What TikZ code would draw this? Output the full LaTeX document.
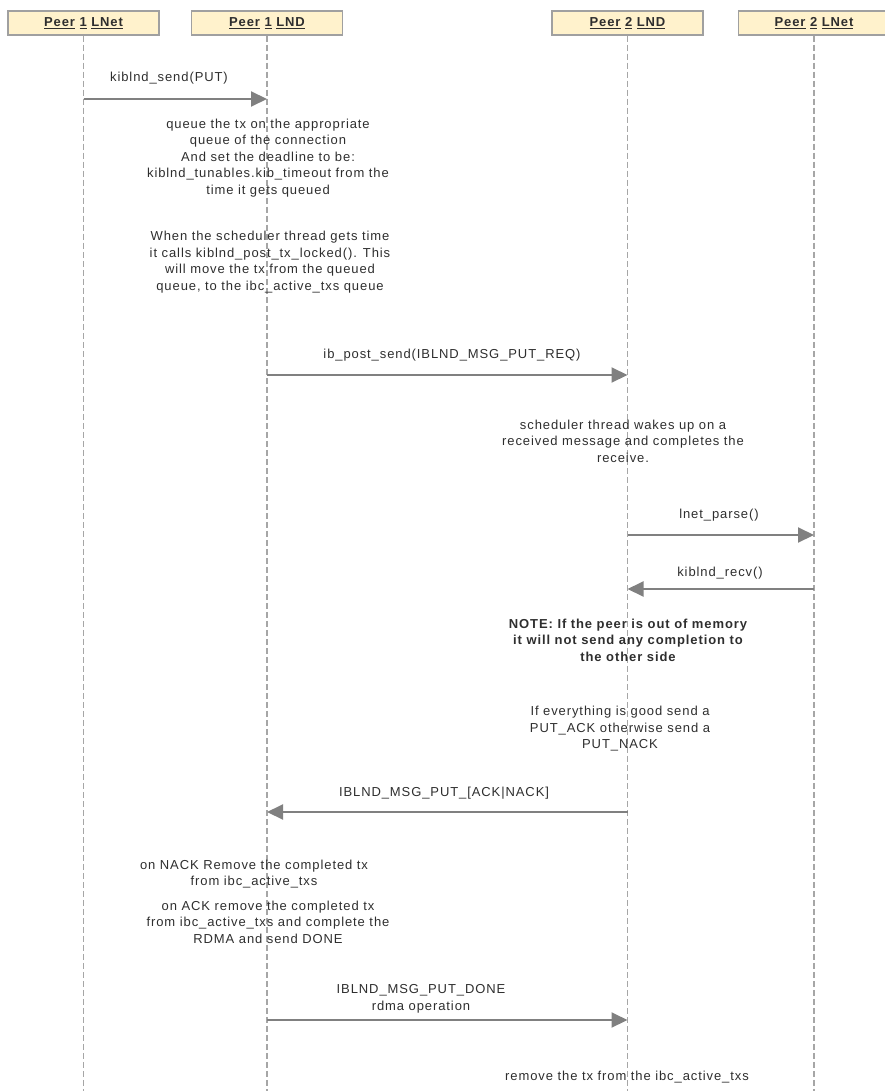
\documentclass[tikz,border=0pt]{standalone}
\usepackage{fontspec}
\setmainfont{Liberation Sans}[LetterSpace=7]
\usetikzlibrary{arrows.meta}

\definecolor{headfill}{HTML}{FFF2CC}
\definecolor{headdraw}{HTML}{A0A0A0}
\definecolor{msgdraw}{HTML}{808080}
\definecolor{lifedraw}{HTML}{A6A6A6}
\definecolor{txt}{HTML}{2E2E2E}

\newcommand{\uword}[1]{\underline{#1}}

\tikzset{
  head/.style={draw=headdraw,line width=1.5pt,fill=headfill,minimum width=151pt,minimum height=24pt,inner sep=0pt,font=\fontsize{13}{16.5}\selectfont\bfseries,text=txt},
  life/.style={draw=lifedraw,line width=1.2pt,dash pattern=on 6pt off 3pt},
  msg/.style={draw=msgdraw,line width=2pt,-{Triangle[length=16pt,width=15pt]}},
  lbl/.style={text=txt,align=center,inner sep=0pt}
}

\begin{document}
\begin{tikzpicture}[x=1pt,y=-1pt,font=\fontsize{13}{16.5}\selectfont]
\useasboundingbox (0,0) rectangle (884,1091);

% participants
\node[head] (lnet1) at (83.5,23) {\uword{Peer} \uword{1} \uword{LNet}};
\node[head] (lnd1) at (267,23) {\uword{Peer} \uword{1} \uword{LND}};
\node[head] (lnd2) at (627.5,23) {\uword{Peer} \uword{2} \uword{LND}};
\node[head] (lnet2) at (814,23) {\uword{Peer} \uword{2} \uword{LNet}};

% lifelines
\foreach \p in {lnet1,lnd1,lnd2,lnet2}{
  \coordinate (\p-end) at (\p |- 0,1091);
  \draw[life] (\p.south) -- (\p-end);
}

% message end points
\coordinate (send-a) at (lnet1 |- 0,99);
\coordinate (send-b) at (lnd1 |- 0,99);
\coordinate (req-a) at (lnd1 |- 0,375);
\coordinate (req-b) at (lnd2 |- 0,375);
\coordinate (parse-a) at (lnd2 |- 0,535);
\coordinate (parse-b) at (lnet2 |- 0,535);
\coordinate (recv-a) at (lnet2 |- 0,589);
\coordinate (recv-b) at (lnd2 |- 0,589);
\coordinate (ack-a) at (lnd2 |- 0,812);
\coordinate (ack-b) at (lnd1 |- 0,812);
\coordinate (done-a) at (lnd1 |- 0,1020);
\coordinate (done-b) at (lnd2 |- 0,1020);

% messages
\draw[msg] (send-a) -- (send-b);
\draw[msg] (req-a) -- (req-b);
\draw[msg] (parse-a) -- (parse-b);
\draw[msg] (recv-a) -- (recv-b);
\draw[msg] (ack-a) -- (ack-b);
\draw[msg] (done-a) -- (done-b);

% message labels
\node[lbl] (sendlbl) at (169,78) {kiblnd\_send(PUT)};
\node[lbl] (reqlbl) at (452,355) {ib\_post\_send(IBLND\_MSG\_PUT\_REQ)};
\node[lbl] (parselbl) at (719,515) {lnet\_parse()};
\node[lbl] (recvlbl) at (720,573) {kiblnd\_recv()};
\node[lbl] (acklbl) at (444,793) {IBLND\_MSG\_PUT\_[ACK|NACK]};
\node[lbl] (donelbl) at (421,999) {IBLND\_MSG\_PUT\_DONE\\rdma operation};

% notes
\node[lbl] (queuenote) at (268,158) {queue the tx on the appropriate\\queue of the connection\\And set the deadline to be:\\kiblnd\_tunables.kib\_timeout from the\\time it gets queued};
\node[lbl] (schednote) at (270,262) {When the scheduler thread gets time\\it calls kiblnd\_post\_tx\_locked(). This\\will move the tx from the queued\\queue, to the ibc\_active\_txs queue};
\node[lbl] (wakenote) at (623,441) {scheduler thread wakes up on a\\received message and completes the\\receive.};
\node[lbl,font=\fontsize{13}{16.5}\selectfont\bfseries] (memnote) at (628,640) {NOTE: If the peer is out of memory\\it will not send any completion to\\the other side};
\node[lbl] (goodnote) at (620,729) {If everything is good send a\\PUT\_ACK otherwise send a\\PUT\_NACK};
\node[lbl] (nacknote) at (254,874) {on NACK Remove the completed tx\\from ibc\_active\_txs};
\node[lbl] (acknote) at (268,922) {on ACK remove the completed tx\\from ibc\_active\_txs and complete the\\RDMA and send DONE};
\node[lbl] (rmnote) at (627,1077) {remove the tx from the ibc\_active\_txs};
\end{tikzpicture}
\end{document}
